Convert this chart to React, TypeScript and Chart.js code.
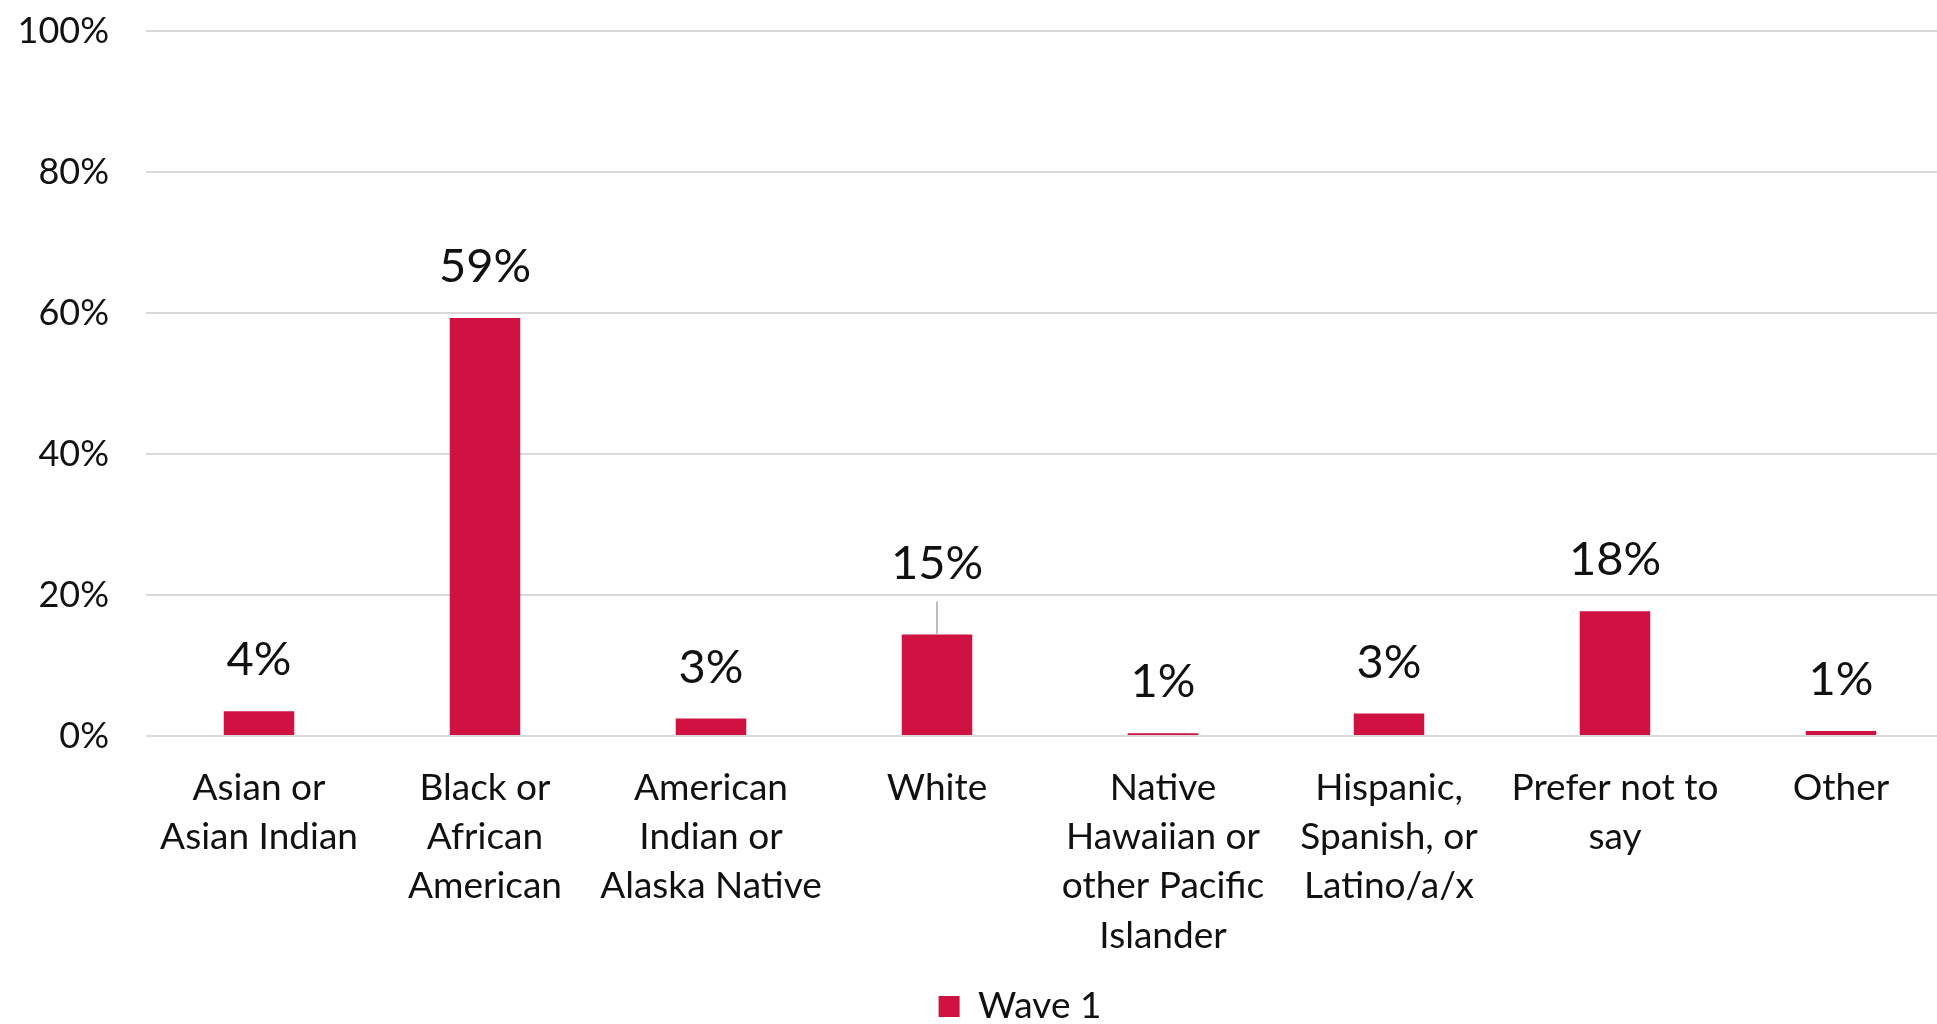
import React, { useEffect, useRef } from "react";
import { Chart, registerables } from "chart.js";

Chart.register(...registerables);

// ---- data ----
const categories: string[][] = [
  ["Asian or", "Asian Indian"],
  ["Black or", "African", "American"],
  ["American", "Indian or", "Alaska Native"],
  ["White"],
  ["Native", "Hawaiian or", "other Pacific", "Islander"],
  ["Hispanic,", "Spanish, or", "Latino/a/x"],
  ["Prefer not to", "say"],
  ["Other"],
];
const wave1Values = [3.5, 59.3, 2.5, 14.4, 0.4, 3.2, 17.7, 0.7];
const wave1Labels = ["4%", "59%", "3%", "15%", "1%", "3%", "18%", "1%"];
const yTickValues = [0, 20, 40, 60, 80, 100];
const seriesName = "Wave 1";

// ---- style ----
const FONT = "Lato, 'Open Sans', sans-serif";
const TEXT = "#111111";
const BAR = "#D01243";
const GRID = "#d9d9d9";
const LABEL_LIFT = 51;
const EXTRA_LIFT: Record<number, number> = { 3: 20 };
const LEGEND_SHIFT = 43;

const valueLabelPlugin = {
  id: "valueLabels",
  afterDatasetsDraw(chart: any) {
    const meta = chart.getDatasetMeta(0);
    const ctx = chart.ctx;
    ctx.save();
    ctx.font = `47px ${FONT}`;
    ctx.fillStyle = TEXT;
    ctx.textAlign = "center";
    ctx.textBaseline = "middle";
    meta.data.forEach((el: any, i: number) => {
      const { x, y } = el.getProps(["x", "y"], true);
      const extra = EXTRA_LIFT[i] || 0;
      const cy = y - LABEL_LIFT - extra;
      ctx.fillText(wave1Labels[i], x, cy);
      if (extra) {
        ctx.strokeStyle = "#a6a6a6";
        ctx.lineWidth = 1.5;
        ctx.beginPath();
        ctx.moveTo(x, cy + 38);
        ctx.lineTo(x, y);
        ctx.stroke();
      }
    });
    ctx.restore();
  },
};

const legendShiftPlugin = {
  id: "legendShift",
  afterLayout(chart: any) {
    const lg = chart.legend;
    if (lg) {
      lg.left += LEGEND_SHIFT;
      lg.right += LEGEND_SHIFT;
    }
  },
};

export default function App() {
  const ref = useRef<HTMLCanvasElement | null>(null);

  useEffect(() => {
    if (!ref.current) return;
    const chart = new Chart(ref.current, {
      type: "bar",
      data: {
        labels: categories,
        datasets: [
          {
            label: seriesName,
            data: wave1Values,
            backgroundColor: BAR,
            borderWidth: 0,
            categoryPercentage: 1,
            barPercentage: 0.312,
          },
        ],
      },
      options: {
        animation: false,
        responsive: false,
        devicePixelRatio: 1,
        layout: { padding: { top: 31, right: 86, bottom: 0, left: 0 } },
        plugins: {
          tooltip: { enabled: false },
          legend: {
            position: "bottom",
            labels: {
              font: { family: FONT, size: 37 },
              color: TEXT,
              boxWidth: 21,
              boxHeight: 21,
              padding: 10,
            },
          },
        },
        scales: {
          x: {
            grid: { display: false, drawTicks: false },
            border: { display: false },
            ticks: {
              font: { family: FONT, size: 37, lineHeight: 1.335 },
              color: TEXT,
              padding: 27,
              maxRotation: 0,
              autoSkip: false,
            },
            afterFit: (s: any) => {
              s.height = 242;
            },
          },
          y: {
            min: 0,
            max: 100,
            grid: {
              color: GRID,
              lineWidth: 2,
              drawTicks: true,
              tickLength: 37,
              tickColor: "rgba(0,0,0,0)",
            },
            border: { display: false },
            afterBuildTicks: (s: any) => {
              s.ticks = yTickValues.map((v) => ({ value: v }));
            },
            ticks: {
              font: { family: FONT, size: 36 },
              color: TEXT,
              padding: 0,
              callback: (v: any) => `${v}%`,
            },
            afterFit: (s: any) => {
              s.width = 146;
            },
          },
        },
      },
      plugins: [valueLabelPlugin, legendShiftPlugin],
    });
    return () => chart.destroy();
  }, []);

  return (
    <div
      style={{
        position: "fixed",
        left: 0,
        top: 0,
        width: 1937,
        height: 1024,
        overflow: "hidden",
        background: "#fff",
      }}
    >
      <canvas ref={ref} width={2040} height={1035} />
    </div>
  );
}
